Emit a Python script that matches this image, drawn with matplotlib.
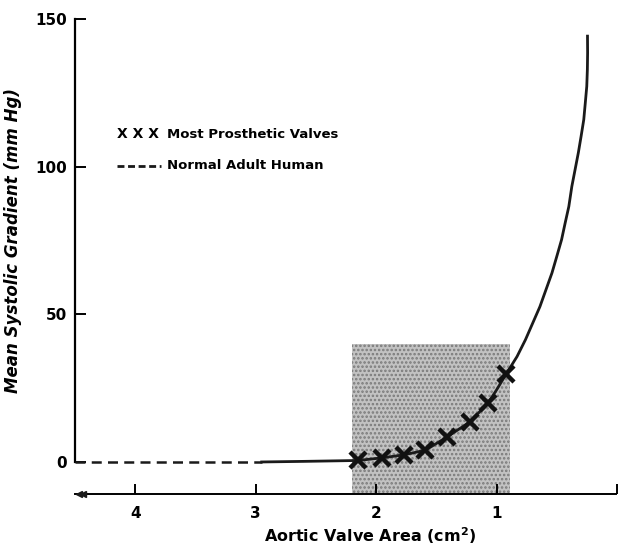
import numpy as np
import matplotlib.pyplot as plt
from matplotlib.patches import Rectangle

# valve area (cm2) vs mean systolic gradient (mmHg)
normal_area = [4.5, 2.95]
normal_grad = [0.0, 0.0]

curve_area = [2.95, 2.6, 2.15, 1.95, 1.77, 1.59, 1.41, 1.22, 1.07, 1.0,
              0.92, 0.83, 0.76, 0.70, 0.64, 0.59, 0.54, 0.50, 0.46, 0.43,
              0.40, 0.375, 0.348, 0.321, 0.298, 0.276, 0.263, 0.251, 0.246,
              0.244, 0.245]
curve_grad = [0.0, 0.2, 0.5, 1.4, 2.4, 4.0, 8.5, 13.6, 20.0, 24.4,
              29.8, 35.7, 41.4, 47.0, 52.6, 58.3, 64.0, 69.6, 75.3, 81.0,
              86.5, 93.3, 99.0, 104.7, 110.3, 115.9, 121.7, 127.2, 132.9,
              138.6, 144.2]

# prosthetic valve points along the curve
valve_area = [2.15, 1.95, 1.77, 1.59, 1.41, 1.22, 1.07, 0.92]
valve_grad = [0.5, 1.4, 2.4, 4.0, 8.5, 13.6, 20.0, 29.8]

# shaded box: range of prosthetic valves
box_area = [2.2, 0.89]
box_grad_top = 40
axis_level = -10.8

xticks = [4, 3, 2, 1, 0]
xticklabels = ['4', '3', '2', '1', '']
yticks = [0, 50, 100, 150]

plt.rcParams['font.family'] = 'DejaVu Sans'
plt.rcParams['font.weight'] = 'bold'
plt.rcParams['hatch.linewidth'] = 1.2

fig = plt.figure(figsize=(6.21, 5.47), dpi=100)
ax = fig.add_axes([75 / 621, 49.6 / 547, 542 / 621, 478.4 / 547])

ax.add_patch(Rectangle((box_area[1], axis_level), box_area[0] - box_area[1],
                       box_grad_top - axis_level, facecolor='#c2c2c2',
                       edgecolor='#7a7a7a', hatch='....', linewidth=0, zorder=1))

ax.plot(normal_area, normal_grad, color='#1a1a1a', lw=1.8, ls=(0, (4, 2.5)), zorder=3)
ax.plot(curve_area, curve_grad, color='#1a1a1a', lw=2.0, zorder=3,
        solid_joinstyle='round')
ax.plot(valve_area, valve_grad, ls='none', marker='x', ms=11, mew=3.2,
        color='#111111', zorder=4)

ax.set_xlim(4.5, 0)
ax.set_ylim(-12, 150)

for s in ['top', 'right']:
    ax.spines[s].set_visible(False)
ax.spines['left'].set_bounds(0, 150)
ax.spines['left'].set_linewidth(1.6)
ax.spines['bottom'].set_position(('data', axis_level))
ax.spines['bottom'].set_linewidth(1.4)
ax.spines['bottom'].set_bounds(4.5, 0.01)

# arrowheads on the left end of the area axis
ax.plot([4.47, 4.43], [axis_level, axis_level], ls='none', marker='<', ms=5,
        color='#1a1a1a', clip_on=False, zorder=5)

ax.set_xticks(xticks)
ax.set_xticklabels(xticklabels)
ax.set_yticks(yticks)
ax.tick_params(axis='x', direction='in', length=7, width=1.4, pad=9, labelsize=11)
ax.tick_params(axis='y', direction='in', length=8, width=1.4, pad=6, labelsize=11)

ax.set_xlabel('Aortic Valve Area (cm$^\\mathbf{2}$)', fontsize=11.5, fontweight='bold')
ax.xaxis.set_label_coords(0.544, -0.058)
ax.set_ylabel('Mean Systolic Gradient (mm Hg)', fontsize=12, fontweight='bold',
              style='italic')
ax.yaxis.set_label_coords(-0.098, 0.538)

# hand-drawn key
ax.text(4.15, 111, 'X X X', fontsize=10, fontweight='bold', va='center')
ax.text(3.74, 111, 'Most Prosthetic Valves', fontsize=9.5, fontweight='bold',
        va='center')
ax.plot([4.15, 3.79], [100.3, 100.3], color='#1a1a1a', lw=2.0, ls=(0, (2.5, 1.3)))
ax.text(3.74, 100.3, 'Normal Adult Human', fontsize=9.5, fontweight='bold',
        va='center')

fig.savefig('out.png', dpi=100)
